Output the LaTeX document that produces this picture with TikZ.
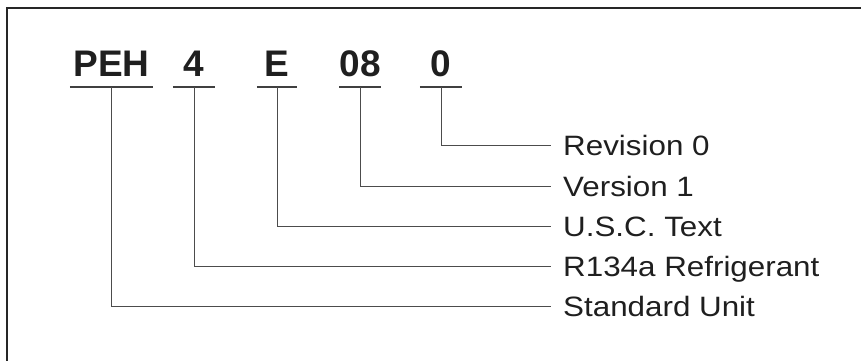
\documentclass[tikz,border=0pt]{standalone}
\usepackage{fontspec}
\setmainfont{Liberation Sans}
\newfontfamily\lblfont[FakeStretch=1.12]{Liberation Sans}
\begin{document}
\begin{tikzpicture}[x=1pt,y=-1pt,
  codebox/.style={font=\fontsize{37}{40}\selectfont\bfseries, text=black!88,
    inner xsep=0pt, inner ysep=10pt, text height=27pt, text depth=0pt, anchor=south},
  lblbox/.style={font=\lblfont\fontsize{28}{30}\selectfont, text=black!88,
    inner sep=0pt, text height=20pt, text depth=0pt, anchor=west},
  uline/.style={draw=black!75, line width=1.3pt},
  conn/.style={draw=black!70, line width=0.8pt},
  frame/.style={draw=black!85, line width=2pt}]
\useasboundingbox (0,0) rectangle (861,360);
% frame
\draw[frame] (7,361) -- (7,8) -- (862,8);
% code parts
\node[codebox, minimum width=83pt] (c1) at (111.5,87) {PEH};
\node[codebox, minimum width=42pt] (c2) at (194,87) {4};
\node[codebox, minimum width=40pt] (c3) at (277,87) {E};
\node[codebox, minimum width=40pt] (c4) at (360,87) {08};
\node[codebox, minimum width=42pt] (c5) at (441,87) {0};
\foreach \n in {c1,c2,c3,c4,c5} \draw[uline] (\n.south west) -- (\n.south east);
% labels
\node[lblbox] (l5) at (563,145) {Revision 0};
\node[lblbox] (l4) at (563,186) {Version 1};
\node[lblbox] (l3) at (563,226) {U.S.C. Text};
\node[lblbox] (l2) at (563,266) {R134a Refrigerant};
\node[lblbox] (l1) at (563,306) {Standard Unit};
% connectors
\foreach \i in {1,...,5} \draw[conn] (c\i.south) |- ([xshift=-12pt]l\i.west);
\end{tikzpicture}
\end{document}
